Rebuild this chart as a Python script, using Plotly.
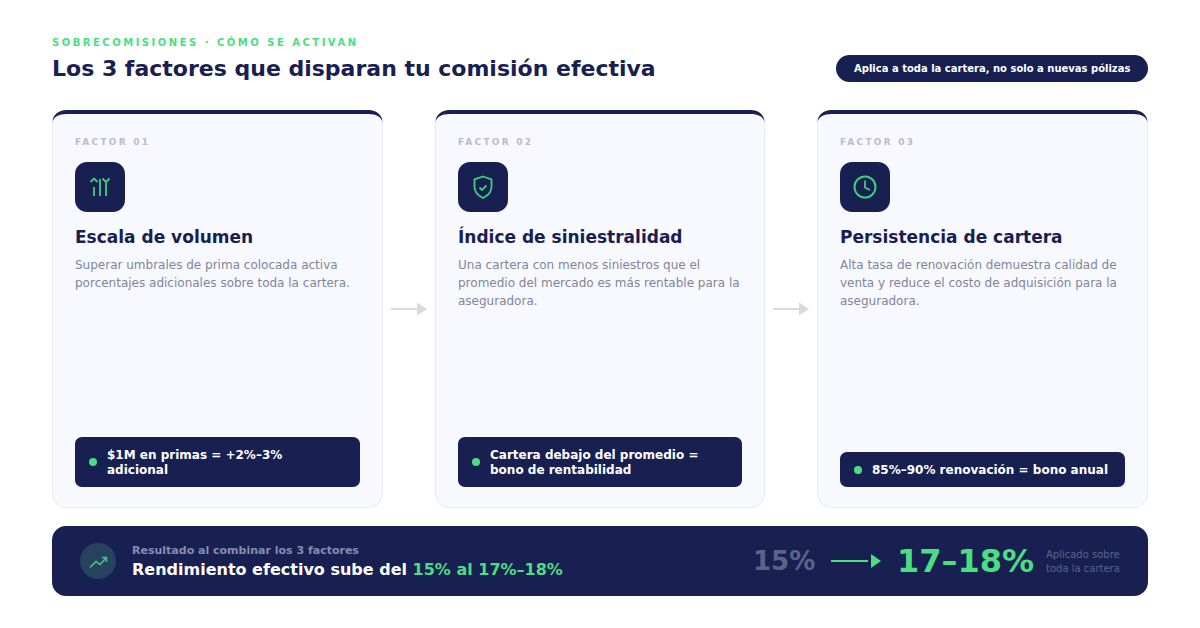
import plotly.graph_objects as go

# text content
kicker = "SOBRECOMISIONES · CÓMO SE ACTIVAN"
title = "Los 3 factores que disparan tu comisión efectiva"
pill_text = "Aplica a toda la cartera, no solo a nuevas pólizas"

factor_labels = ["FACTOR 01", "FACTOR 02", "FACTOR 03"]
card_titles = ["Escala de volumen", "Índice de siniestralidad", "Persistencia de cartera"]
card_desc_1 = ["Superar umbrales de prima colocada activa",
               "porcentajes adicionales sobre toda la cartera."]
card_desc_2 = ["Una cartera con menos siniestros que el",
               "promedio del mercado es más rentable para la",
               "aseguradora."]
card_desc_3 = ["Alta tasa de renovación demuestra calidad de",
               "venta y reduce el costo de adquisición para la",
               "aseguradora."]
chip_1 = ["$1M en primas = +2%–3%", "adicional"]
chip_2 = ["Cartera debajo del promedio =", "bono de rentabilidad"]
chip_3 = ["85%–90% renovación = bono anual"]

result_label = "Resultado al combinar los 3 factores"
result_text = "Rendimiento efectivo sube del "
result_green = "15% al 17%–18%"
rate_before = "15%"
rate_after = "17–18%"
applied_note = ["Aplicado sobre", "toda la cartera"]

NAVY = "#182052"
GREEN = "#4ade80"
ICON_GREEN = "#3ecf7c"
FONT = "DejaVu Sans"

shapes = []
annotations = []


def rrect(x0, y0, x1, y1, r):
    k = r * 0.45
    return (f"M{x0+r},{y0} L{x1-r},{y0} C{x1-k},{y0} {x1},{y0+k} {x1},{y0+r} "
            f"L{x1},{y1-r} C{x1},{y1-k} {x1-k},{y1} {x1-r},{y1} "
            f"L{x0+r},{y1} C{x0+k},{y1} {x0},{y1-k} {x0},{y1-r} "
            f"L{x0},{y0+r} C{x0},{y0+k} {x0+k},{y0} {x0+r},{y0} Z")


def box(x0, y0, x1, y1, r, fill, line=None):
    shapes.append(dict(type="path", path=rrect(x0, y0, x1, y1, r), fillcolor=fill,
                       line=dict(color=line or fill, width=1 if line else 0), layer="above"))


def stroke(path, color=ICON_GREEN, width=1.8):
    shapes.append(dict(type="path", path=path, line=dict(color=color, width=width), layer="above"))


def solid(path, color):
    shapes.append(dict(type="path", path=path, fillcolor=color, line=dict(width=0), layer="above"))


def label(x, y, text, size, color, bold=False, spacing=None):
    if bold:
        text = f"<b>{text}</b>"
    if spacing:
        text = f'<span style="letter-spacing:{spacing}px">{text}</span>'
    annotations.append(dict(x=x, y=y, xref="x", yref="y", text=text, showarrow=False,
                            xanchor="left", yanchor="middle", align="left", borderpad=0,
                            borderwidth=0, font=dict(family=FONT, size=size, color=color)))


def circle(cx, cy, r, fill):
    shapes.append(dict(type="circle", x0=cx-r, x1=cx+r, y0=cy-r, y1=cy+r,
                       fillcolor=fill, line=dict(width=0), layer="above"))


# header
label(52, 42, kicker, 10, GREEN, bold=True, spacing=2.5)
label(52, 68.5, title, 22, NAVY, bold=True)
box(836, 55, 1148, 82, 13.5, NAVY)
label(854, 68.5, pill_text, 10, "#ffffff", bold=True)

# cards
card_x = [(52.5, 382.5), (435.5, 764.5), (817.5, 1147.5)]
chip_x = [(75, 360), (458, 742), (840, 1125)]
descs = [card_desc_1, card_desc_2, card_desc_3]
chips = [chip_1, chip_2, chip_3]
title_y = [237, 236, 237]
for i, (x0, x1) in enumerate(card_x):
    box(x0, 110.5, x1, 507.5, 14, "#f8f9fe", "#e8eaf2")
    # thick top edge, tapering into the side border
    solid(f"M{x0},122 C{x0},115 {x0+6},110 {x0+14},110 L{x1-14},110 C{x1-6},110 {x1},115 {x1},122 "
          f"C{x1-1},117 {x1-6},114 {x1-14},114 L{x0+14},114 C{x0+6},114 {x0+1},117 {x0},122 Z", NAVY)
    tx = chip_x[i][0]
    label(tx, 142, factor_labels[i], 9, "#b9bccd", bold=True, spacing=2.25)
    box(tx, 162, tx+50, 212, 12, NAVY)
    label(tx, title_y[i], card_titles[i], 17, NAVY, bold=True)
    for j, line in enumerate(descs[i]):
        label(tx, 265+18*j, line, 12, "#80859c")
    lines = chips[i]
    top = 487 - (50 if len(lines) == 2 else 35)
    box(chip_x[i][0], top, chip_x[i][1], 487, 7, NAVY)
    circle(tx+18, 462 if len(lines) == 2 else 470, 4, GREEN)
    for j, line in enumerate(lines):
        y = 455+15*j if len(lines) == 2 else 470
        label(tx+32, y, line, 12, "#ffffff", bold=True)

# icon 1: bars with chevrons
stroke("M90.5,182 L94,178.5 L97.5,182 M94,187 L94,196 M100,179 L100,196 "
       "M102.5,178.5 L106,182 L109.5,178.5 M106,182 L106,196")
# icon 2: shield with check
stroke("M483,176.5 L491.5,179.5 L491.5,187 C491.5,193 487,196 483,198 "
       "C479,196 474.5,193 474.5,187 L474.5,179.5 Z M479.5,187.5 L482,190 L486.5,185.5")
# icon 3: clock
shapes.append(dict(type="circle", x0=854.5, x1=875.5, y0=176.5, y1=197.5, fillcolor="rgba(0,0,0,0)",
                   line=dict(color=ICON_GREEN, width=2), layer="above"))
stroke("M865,180.5 L865,187.5 L870,190")

# grey arrows between cards
for x in (391, 773):
    shapes.append(dict(type="line", x0=x, x1=x+26, y0=309, y1=309,
                       line=dict(color="#d9d9de", width=2), layer="above"))
    solid(f"M{x+26},302.5 L{x+36},309 L{x+26},315.5 Z", "#d9d9de")

# result banner
box(52, 526, 1148, 596, 14, NAVY)
circle(98, 561, 18, "#27425f")
stroke("M90,567.5 L96,561.5 L100,564.5 L106.5,557.5 M102,557.5 L106.5,557.5 L106.5,562", ICON_GREEN, 1.5)
label(132, 550, result_label, 11, "#868cb0", bold=True)
label(132, 569, f'{result_text}<span style="color:{GREEN}">{result_green}</span>', 16, "#ffffff", bold=True)
label(753, 561, rate_before, 26, "#5c6387", bold=True)
shapes.append(dict(type="line", x0=831, x1=868, y0=561, y1=561,
                   line=dict(color=GREEN, width=2), layer="above"))
solid("M871,554 L881,561 L871,568 Z", GREEN)
label(897, 561, rate_after, 32, GREEN, bold=True)
label(1046, 554, applied_note[0], 10, "#5c6387")
label(1046, 568, applied_note[1], 10, "#5c6387")

fig = go.Figure()
fig.update_layout(
    width=1200, height=628, margin=dict(l=0, r=0, t=0, b=0),
    paper_bgcolor="#ffffff", plot_bgcolor="#ffffff", showlegend=False,
    xaxis=dict(range=[0, 1200], visible=False, fixedrange=True),
    yaxis=dict(range=[628, 0], visible=False, fixedrange=True),
    shapes=shapes, annotations=annotations,
)
fig.write_html("out.html", config={"displayModeBar": False},
               post_script="document.body.style.margin='0';")
